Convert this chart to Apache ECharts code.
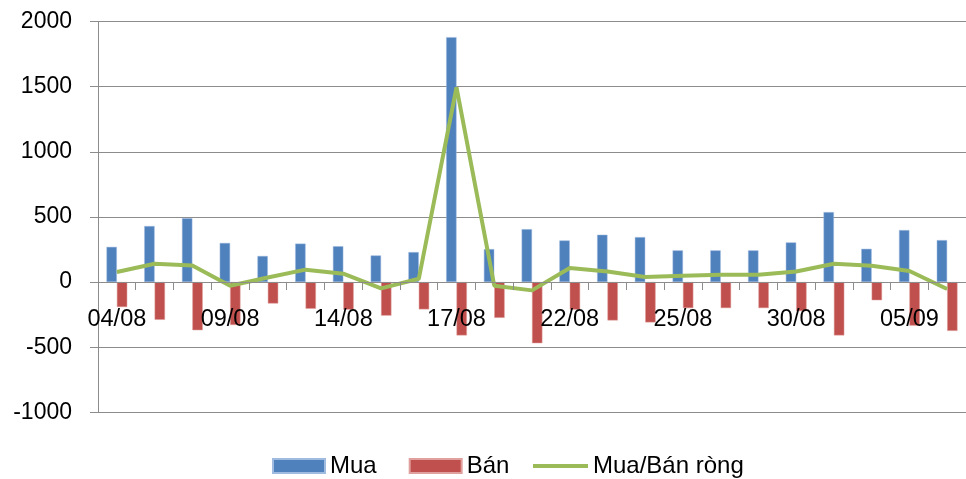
<!DOCTYPE html>
<html>
<head>
<meta charset="utf-8">
<script src="https://cdn.jsdelivr.net/npm/echarts@6/dist/echarts.min.js"></script>
<style>
html,body{margin:0;padding:0;background:#fff;}
#chart{width:966px;height:479px;}
</style>
</head>
<body>
<div id="chart"></div>
<script>
var categories = ['04/08','07/08','08/08','09/08','10/08','11/08','14/08','15/08','16/08','17/08','18/08','21/08','22/08','23/08','24/08','25/08','28/08','29/08','30/08','31/08','01/09','05/09','06/09'];
var buyValues = [270,430,490,300,200,295,275,204,230,1880,253,406,319,363,345,243,243,243,304,537,255,399,322];
var sellValues = [-192,-290,-370,-330,-165,-205,-212,-258,-210,-410,-275,-470,-212,-295,-310,-200,-200,-200,-223,-410,-140,-335,-375];
var netValues = [77,140,127,-28,35,95,64,-49,25,1495,-28,-64,107,81,38,48,56,56,81,140,125,85,-54];
var yTicks = {min:-1000, max:2000, interval:500};

var FONT = 'Liberation Sans';
var GREY = '#8c8c8c';
var plotTop = 21.5, plotBottomPx = 412.3;
var chart = echarts.init(document.getElementById('chart'), null, {renderer:'canvas'});
// second grid ends exactly at the value 0 of the main value axis, so its category axis sits on zero
var zeroY = plotTop + (plotBottomPx - plotTop) * (yTicks.max - 0) / (yTicks.max - yTicks.min);
chart.setOption({
  animation:false,
  backgroundColor:'#ffffff',
  textStyle:{fontFamily:FONT},
  grid:[
    {left:98, top:plotTop, width:880, height:plotBottomPx - plotTop},
    {left:98, top:plotTop, width:880, height:zeroY - plotTop, z:10}
  ],
  legend:[{
    top:454, left:272, padding:0,
    itemWidth:52, itemHeight:14, itemGap:32,
    textStyle:{fontFamily:FONT, fontSize:24, color:'#000'},
    data:[{name:'Mua',icon:'rect'},{name:'Bán',icon:'rect'}]
  },{
    top:454, left:533, padding:0,
    itemWidth:55, itemHeight:4,
    textStyle:{fontFamily:FONT, fontSize:24, color:'#000'},
    data:[{name:'Mua/Bán ròng',icon:'rect'}]
  }],
  xAxis:[{
    type:'category', data:categories, gridIndex:0,
    axisLine:{show:false}, axisTick:{show:false}, axisLabel:{show:false}, splitLine:{show:false}
  },{
    type:'category', data:categories, gridIndex:1, z:10,
    axisLine:{onZero:false, lineStyle:{color:GREY, width:1}},
    axisTick:{show:true, interval:0, length:8, lineStyle:{color:GREY}},
    axisLabel:{interval:2, fontFamily:FONT, fontSize:23.5, color:'#000', margin:25},
    splitLine:{show:false}
  }],
  yAxis:[{
    type:'value', gridIndex:0, min:yTicks.min, max:yTicks.max, interval:yTicks.interval,
    axisLine:{show:true, lineStyle:{color:GREY, width:1}},
    axisTick:{show:true, length:8, lineStyle:{color:GREY}},
    axisLabel:{fontFamily:FONT, fontSize:23, color:'#000', margin:26, formatter:function(v){return String(v);}},
    splitLine:{show:true, lineStyle:{color:GREY, width:1}}
  },{
    type:'value', gridIndex:1, min:0, max:yTicks.max, show:false
  }],
  series:[
    {name:'Mua', type:'bar', data:buyValues, barGap:'0%', barCategoryGap:'45%',
     itemStyle:{color:'#4F81BD', borderColor:'#9fbbe0', borderWidth:0.5}},
    {name:'Bán', type:'bar', data:sellValues, barGap:'0%', barCategoryGap:'45%',
     itemStyle:{color:'#C0504D', borderColor:'#e0a09e', borderWidth:0.5}},
    {name:'Mua/Bán ròng', type:'line', data:netValues, symbol:'none', z:5,
     lineStyle:{color:'#9BBB59', width:4}, itemStyle:{color:'#9BBB59'}}
  ]
});
</script>
</body>
</html>
